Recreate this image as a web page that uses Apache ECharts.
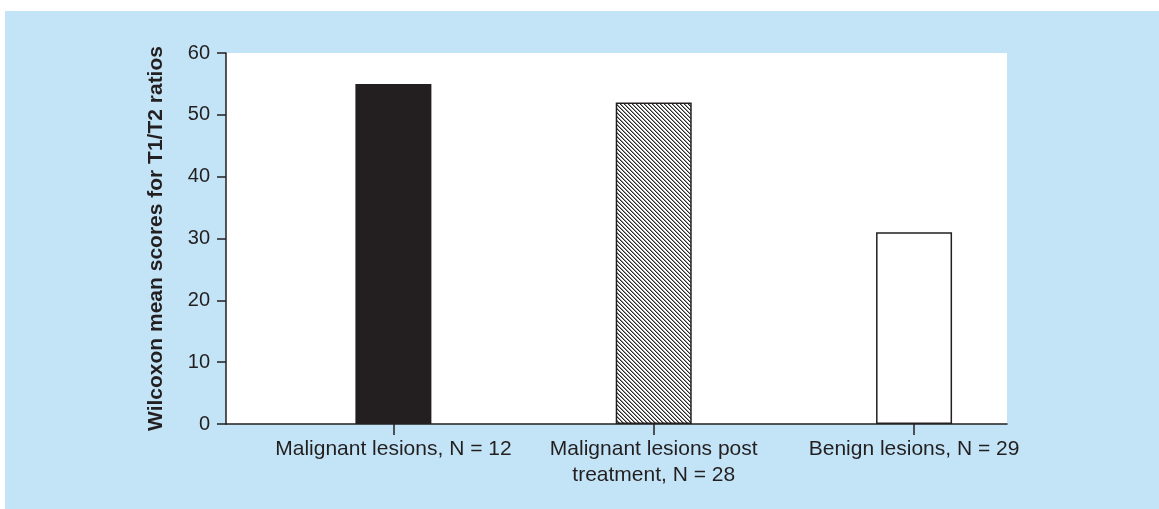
<!DOCTYPE html>
<html>
<head>
<meta charset="utf-8">
<script src="https://cdn.jsdelivr.net/npm/echarts@6/dist/echarts.min.js"></script>
<style>
html,body{margin:0;padding:0;background:#fff;width:1159px;height:509px;overflow:hidden;}
#bg{position:absolute;left:5px;top:11px;width:1154px;height:498px;background:#c2e4f6;}
#chart{position:absolute;left:0;top:0;width:1159px;height:509px;}
</style>
</head>
<body>
<div id="bg"></div>
<div id="chart"></div>
<script>
const categories = ['Malignant lesions, N = 12', 'Malignant lesions post\ntreatment, N = 28', 'Benign lesions, N = 29'];
const scores = [55, 52, 31];
const yTicks = [0, 10, 20, 30, 40, 50, 60];
const yAxisTitle = 'Wilcoxon mean scores for T1/T2 ratios';

function hatch() {
  const n = 4;
  const c = document.createElement('canvas');
  c.width = n; c.height = n;
  const ctx = c.getContext('2d');
  const img = ctx.createImageData(n, n);
  for (let y = 0; y < n; y++) {
    for (let x = 0; x < n; x++) {
      const d = ((x - y) % n + n) % n;
      let v = 255;
      if (d === 0) v = 40; else if (d === 1) v = 150;
      const i = (y * n + x) * 4;
      img.data[i] = v; img.data[i+1] = v; img.data[i+2] = v; img.data[i+3] = 255;
    }
  }
  ctx.putImageData(img, 0, 0);
  return c;
}

const fills = ['#231f20', {image: hatch(), repeat: 'repeat'}, '#ffffff'];
const positions = categories.map((_, i) => i + 1);

const chart = echarts.init(document.getElementById('chart'), null, {renderer: 'canvas'});
chart.setOption({
  animation: false,
  backgroundColor: 'transparent',
  textStyle: {fontFamily: 'Liberation Sans, Arial, sans-serif', color: '#231f20'},
  grid: {left: 226, right: 152, top: 53, bottom: 85, show: true, backgroundColor: '#ffffff', borderWidth: 0},
  xAxis: {
    type: 'value',
    min: 0.357, max: 3.357,
    splitLine: {show: false},
    axisLine: {show: true, lineStyle: {color: '#231f20', width: 1.5}},
    axisTick: {show: true, length: 11, customValues: positions, lineStyle: {color: '#231f20', width: 1.5}},
    axisLabel: {
      customValues: positions,
      margin: 12,
      fontSize: 21,
      lineHeight: 26,
      color: '#231f20',
      align: 'center',
      formatter: v => categories[Math.round(v) - 1] || ''
    }
  },
  yAxis: {
    type: 'value',
    min: 0, max: 60, interval: 10,
    name: yAxisTitle,
    nameLocation: 'middle',
    nameGap: 59,
    nameTextStyle: {fontSize: 21, fontWeight: 'bold', color: '#231f20'},
    splitLine: {show: false},
    axisLine: {show: true, lineStyle: {color: '#231f20', width: 1.5}},
    axisTick: {show: true, length: 9, lineStyle: {color: '#231f20', width: 1.5}},
    axisLabel: {fontSize: 20, margin: 16, color: '#231f20', formatter: v => yTicks.includes(v) ? String(v) : ''}
  },
  series: [{
    type: 'bar',
    barWidth: 76,
    data: scores.map((v, i) => ({
      value: [positions[i], v],
      itemStyle: {color: fills[i], borderColor: '#231f20', borderWidth: i === 0 ? 0 : 1.5}
    }))
  }]
});
</script>
</body>
</html>
